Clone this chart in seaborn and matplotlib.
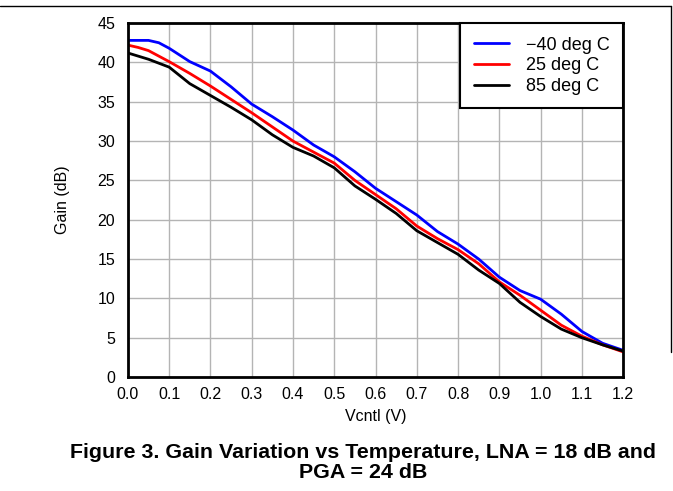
import matplotlib
matplotlib.use("Agg")
import matplotlib.pyplot as plt
import pandas as pd
import seaborn as sns
from matplotlib.lines import Line2D

# values
vcntl = [0.0, 0.025, 0.05, 0.075, 0.1, 0.15, 0.2, 0.25, 0.3, 0.35, 0.4, 0.45, 0.5, 0.55,
         0.6, 0.65, 0.7, 0.75, 0.8, 0.85, 0.9, 0.95, 1.0, 1.05, 1.1, 1.15, 1.2]
gain_m40 = [42.8, 42.8, 42.8, 42.5, 41.8, 40.1, 38.9, 36.9, 34.7, 33.1, 31.4, 29.5, 28.0, 26.1,
            24.0, 22.3, 20.6, 18.5, 16.9, 15.0, 12.7, 11.0, 9.9, 8.0, 5.8, 4.3, 3.4]
gain_25 = [42.2, 41.9, 41.5, 40.8, 40.1, 38.6, 37.0, 35.3, 33.6, 31.8, 30.0, 28.6, 27.2, 25.0,
           23.2, 21.4, 19.2, 17.6, 16.2, 14.4, 12.1, 10.4, 8.5, 6.6, 5.2, 4.1, 3.2]
gain_85 = [41.2, 40.8, 40.4, 39.9, 39.4, 37.3, 35.8, 34.3, 32.7, 30.8, 29.2, 28.1, 26.6, 24.3,
           22.6, 20.8, 18.6, 17.1, 15.6, 13.6, 11.9, 9.5, 7.7, 6.1, 5.0, 4.1, 3.3]
temps = ["\u221240 deg C", "25 deg C", "85 deg C"]
colors = ["#0000ff", "#ff0000", "#000000"]

x_ticks = [round(0.1 * i, 1) for i in range(13)]
y_ticks = list(range(0, 50, 5))

rows = []
for t, g in zip(temps, [gain_m40, gain_25, gain_85]):
    for v, val in zip(vcntl, g):
        rows.append({"Vcntl": v, "Gain": val, "temp": t})
df = pd.DataFrame(rows)

sns.set_style("white")
plt.rcParams["font.family"] = ["Liberation Sans", "DejaVu Sans"]
for k in ["text.color", "axes.labelcolor", "xtick.color", "ytick.color"]:
    plt.rcParams[k] = "black"

fig = plt.figure(figsize=(6.73, 4.91), dpi=100)
ax = fig.add_axes([0.190, 0.232, 0.736, 0.721])

sns.lineplot(data=df, x="Vcntl", y="Gain", hue="temp", hue_order=temps,
             palette=colors, linewidth=2, ax=ax, legend=False)

ax.set_xlim(0, 1.2)
ax.set_ylim(0, 45)
ax.set_xticks(x_ticks)
ax.set_xticklabels([f"{v:.1f}" for v in x_ticks])
ax.set_yticks(y_ticks)
ax.tick_params(length=0, labelsize=11.5)
ax.tick_params(axis="y", pad=9)
ax.tick_params(axis="x", pad=7)
ax.grid(True, color="#b4b4b4", linewidth=1)
for s in ax.spines.values():
    s.set_color("black")
    s.set_linewidth(2)
ax.set_xlabel("Vcntl (V)", fontsize=11.5, labelpad=5)
ax.set_ylabel("Gain (dB)", fontsize=11.5, labelpad=20)

handles = [Line2D([], [], color=c, linewidth=2) for c in colors]
leg = ax.legend(handles, temps, loc="upper right", fontsize=13, borderaxespad=0,
                fancybox=False, framealpha=1, edgecolor="black", handlelength=1.95,
                handletextpad=0.95, borderpad=0.75, labelspacing=0.2)
leg.get_frame().set_linewidth(1.5)

fig.text(0.540, 0.058, "Figure 3. Gain Variation vs Temperature, LNA = 18 dB and\nPGA = 24 dB",
         ha="center", va="center", fontsize=15.4, fontweight="bold", linespacing=1.1)

# page frame pieces from the datasheet
fig.add_artist(Line2D([0, 0.997], [0.988, 0.988], color="black", linewidth=1))
fig.add_artist(Line2D([0.997, 0.997], [0.988, 0.283], color="black", linewidth=1))

fig.savefig("out.png", dpi=100)
